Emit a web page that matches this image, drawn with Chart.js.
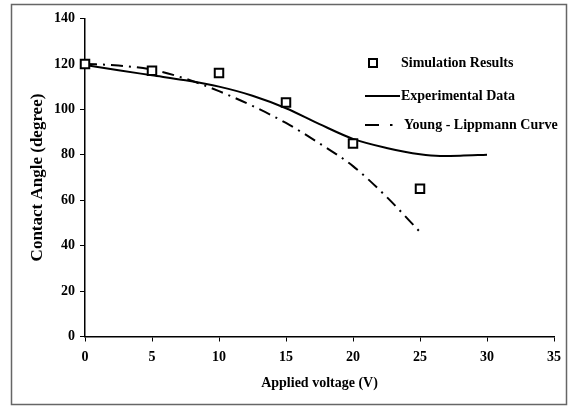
<!DOCTYPE html>
<html>
<head>
<meta charset="utf-8">
<script src="https://cdn.jsdelivr.net/npm/chart.js@4/dist/chart.umd.min.js"></script>
<style>
  html, body { margin: 0; padding: 0; background: #fff; }
  #wrap { width: 568px; height: 407px; }
</style>
</head>
<body>
<div id="wrap"><canvas id="c" width="568" height="407"></canvas></div>
<script>
// ---- data ----
const simVoltage = [0, 5, 10, 15, 20, 25];
const simAngle = [120, 117, 116, 103, 85, 65];

const expVoltage = [0, 2.5, 5, 7.5, 10, 12.5, 15, 17.5, 20, 22.5, 25, 26.5, 28, 30];
const expAngle = [119.5, 117.2, 115, 112.8, 110, 106, 100.5, 93.5, 87, 83, 80.2, 79.5, 79.6, 80];

const ylVoltage = [0, 2.5, 5, 7.5, 10, 12.5, 15, 17.5, 20, 22.5, 25];
const ylAngle = [120, 119.3, 117.5, 113.5, 108, 101.5, 94, 85, 75, 61.5, 46];

const xTicks = [0, 5, 10, 15, 20, 25, 30, 35];
const yTicks = [0, 20, 40, 60, 80, 100, 120, 140];

const seriesNames = ['Simulation Results', 'Experimental Data', 'Young - Lippmann Curve'];
const xTitle = 'Applied voltage (V)';
const yTitle = 'Contact Angle (degree)';

const toPts = (xs, ys) => xs.map((x, i) => ({x: x, y: ys[i]}));

const FONT = '"Liberation Serif", "Times New Roman", serif';

const framePlugin = {
  id: 'frame',
  beforeDraw(chart) {
    const ctx = chart.ctx;
    ctx.save();
    ctx.fillStyle = '#fff';
    ctx.fillRect(0, 0, chart.width, chart.height);
    ctx.strokeStyle = '#666';
    ctx.lineWidth = 1.5;
    ctx.strokeRect(11.5, 4.5, 555, 400);
    ctx.restore();
  }
};

const legendPlugin = {
  id: 'customLegend',
  afterDraw(chart) {
    const ctx = chart.ctx;
    const ds = chart.data.datasets;
    ctx.save();
    ctx.font = 'bold 14px ' + FONT;
    ctx.fillStyle = '#000';
    ctx.textBaseline = 'middle';
    ctx.textAlign = 'left';
    const textX = 401;
    // simulation
    const y1 = 63;
    ctx.strokeStyle = ds[0].borderColor;
    ctx.lineWidth = 2;
    ctx.fillStyle = '#fff';
    ctx.fillRect(369, y1 - 4, 8, 8);
    ctx.strokeRect(369, y1 - 4, 8, 8);
    ctx.fillStyle = '#000';
    ctx.fillText(ds[0].label, textX, y1);
    // experimental
    const y2 = 96;
    ctx.strokeStyle = ds[1].borderColor;
    ctx.lineWidth = ds[1].borderWidth;
    ctx.beginPath();
    ctx.moveTo(365, y2);
    ctx.lineTo(400, y2);
    ctx.stroke();
    ctx.fillText(ds[1].label, textX, y2);
    // young-lippmann
    const y3 = 125;
    ctx.strokeStyle = ds[2].borderColor;
    ctx.lineWidth = ds[2].borderWidth;
    ctx.beginPath();
    ctx.moveTo(365, y3);
    ctx.lineTo(379, y3);
    ctx.moveTo(390, y3);
    ctx.lineTo(392.5, y3);
    ctx.stroke();
    ctx.fillText(ds[2].label, textX + 3, y3);
    ctx.restore();
  }
};

new Chart(document.getElementById('c'), {
  type: 'scatter',
  data: {
    datasets: [
      {
        label: seriesNames[0],
        data: toPts(simVoltage, simAngle),
        showLine: false,
        pointStyle: 'rect',
        pointRadius: 6,
        pointBorderWidth: 2,
        borderWidth: 2,
        borderColor: '#000',
        backgroundColor: '#fff',
        clip: false,
        order: 0
      },
      {
        label: seriesNames[1],
        data: toPts(expVoltage, expAngle),
        showLine: true,
        pointRadius: 0,
        borderWidth: 2,
        borderColor: '#000',
        cubicInterpolationMode: 'monotone',
        order: 1
      },
      {
        label: seriesNames[2],
        data: toPts(ylVoltage, ylAngle),
        showLine: true,
        pointRadius: 0,
        borderWidth: 2,
        borderColor: '#000',
        borderDash: [12, 6, 2, 6],
        cubicInterpolationMode: 'monotone',
        order: 2
      }
    ]
  },
  options: {
    responsive: false,
    animation: false,
    devicePixelRatio: 1,
    layout: { padding: { left: 0, right: 13.5, top: 18.5, bottom: 8 } },
    plugins: { legend: { display: false }, tooltip: { enabled: false } },
    scales: {
      x: {
        type: 'linear',
        min: 0, max: 35,
        afterFit(s) { s.height = 62.5; },
        afterBuildTicks(s) { s.ticks = xTicks.map(v => ({value: v})); },
        grid: { display: true, drawOnChartArea: false, drawTicks: true, tickLength: 5, color: '#000', tickWidth: 1 },
        border: { display: true, color: '#000', width: 1.5 },
        ticks: { color: '#000', padding: 7, font: { family: FONT, size: 14, weight: 'bold' } },
        title: { display: true, text: xTitle, color: '#000', padding: { top: 0, bottom: 7 }, font: { family: FONT, size: 14, weight: 'bold' } }
      },
      y: {
        type: 'linear',
        min: 0, max: 140,
        afterFit(s) { s.width = 85; },
        afterBuildTicks(s) { s.ticks = yTicks.map(v => ({value: v})); },
        grid: { display: true, drawOnChartArea: false, drawTicks: true, tickLength: 5, color: '#000', tickWidth: 1 },
        border: { display: true, color: '#000', width: 1.5 },
        ticks: { color: '#000', padding: 5, font: { family: FONT, size: 14, weight: 'bold' } },
        title: { display: true, text: yTitle, color: '#000', padding: { top: 27.8, bottom: 0 }, font: { family: FONT, size: 17, weight: 'bold' } }
      }
    }
  },
  plugins: [framePlugin, legendPlugin]
});
</script>
</body>
</html>
